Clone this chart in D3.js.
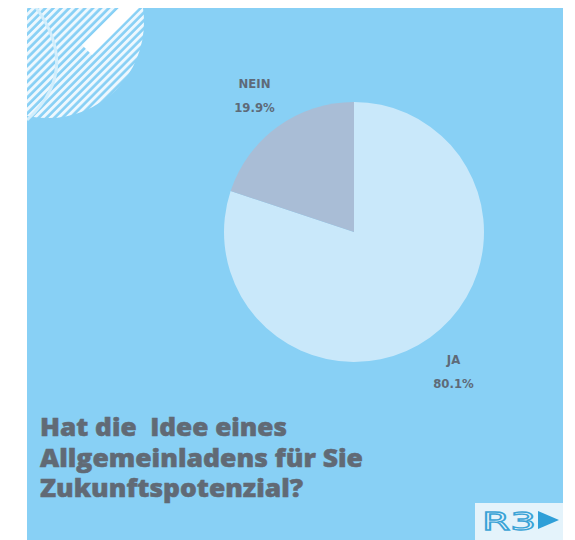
<!DOCTYPE html>
<html>
<head>
<meta charset="utf-8">
<script src="https://cdn.jsdelivr.net/npm/d3@7"></script>
<style>
  body { margin: 0; background: #ffffff; }
</style>
</head>
<body>
<div id="chart"></div>
<script>
// data
const categories = ["JA", "NEIN"];
const values = [80.1, 19.9];
const valueLabels = ["80.1%", "19.9%"];
const colors = ["#c9e8fa", "#a9bdd6"];
const titleLines = ["Hat die  Idee eines", "Allgemeinladens für Sie", "Zukunftspotenzial?"];

const width = 575, height = 540;

let svg = d3.select("#chart")
  .append("svg")
  .attr("width", width)
  .attr("height", height);

// blue card
const card = { x: 27, y: 8, w: 536, h: 532 };
svg.append("rect")
  .attr("x", card.x).attr("y", card.y)
  .attr("width", card.w).attr("height", card.h)
  .attr("fill", "#88d0f5");

let defs = svg.append("defs");
defs.append("clipPath").attr("id", "cardClip")
  .append("rect")
  .attr("x", card.x).attr("y", card.y)
  .attr("width", card.w).attr("height", card.h);

// diagonal stripes for the corner decoration
let pat = defs.append("pattern")
  .attr("id", "stripes")
  .attr("patternUnits", "userSpaceOnUse")
  .attr("width", 5.6).attr("height", 8)
  .attr("patternTransform", "rotate(45)");
pat.append("rect").attr("width", 2.9).attr("height", 8).attr("fill", "#eef8fe");

let deco = svg.append("g").attr("clip-path", "url(#cardClip)");
deco.append("circle")
  .attr("cx", 48).attr("cy", 22).attr("r", 96)
  .attr("fill", "url(#stripes)");
deco.append("path")
  .attr("d", "M35,6 Q82,70 27,120")
  .attr("fill", "none")
  .attr("stroke", "#d2eefc")
  .attr("stroke-width", 3);
deco.append("line")
  .attr("x1", 87).attr("y1", 50)
  .attr("x2", 139).attr("y2", -2)
  .attr("stroke", "#ffffff")
  .attr("stroke-width", 14);

// pie
const cx = 354, cy = 232, radius = 130;
let pie = d3.pie().sort(null).value(d => d);
let arcs = pie(values);
let arc = d3.arc().innerRadius(0).outerRadius(radius);
let labelArc = d3.arc().innerRadius(170).outerRadius(170);

let g = svg.append("g").attr("transform", "translate(" + cx + "," + cy + ")");
g.selectAll("path.slice")
  .data(arcs)
  .enter()
  .append("path")
    .attr("class", "slice")
    .attr("d", arc)
    .attr("fill", (d, i) => colors[i]);

let lab = g.selectAll("g.lab")
  .data(arcs)
  .enter()
  .append("g")
    .attr("class", "lab")
    .attr("transform", d => "translate(" + labelArc.centroid(d) + ")");
lab.append("text")
  .attr("y", -6)
  .attr("text-anchor", "middle")
  .style("font-family", "'DejaVu Sans Condensed', 'DejaVu Sans'")
  .style("font-weight", "bold")
  .style("font-size", "13px")
  .style("fill", "#5e6a78")
  .text((d, i) => categories[i]);
lab.append("text")
  .attr("y", 18)
  .attr("text-anchor", "middle")
  .style("font-family", "'DejaVu Sans Condensed', 'DejaVu Sans'")
  .style("font-weight", "bold")
  .style("font-size", "13px")
  .style("fill", "#5e6a78")
  .text((d, i) => valueLabels[i]);

// title
const titleWidths = [247, 323, 263];
svg.append("g")
  .selectAll("text")
  .data(titleLines)
  .enter()
  .append("text")
    .attr("x", 40)
    .attr("y", (d, i) => 436 + i * 30.5)
    .attr("textLength", (d, i) => titleWidths[i])
    .attr("lengthAdjust", "spacingAndGlyphs")
    .style("font-family", "'Open Sans'")
    .style("font-weight", "800")
    .style("font-size", "24px")
    .style("fill", "#616a75")
    .style("stroke", "#616a75")
    .style("stroke-width", 0.5)
    .style("white-space", "pre")
    .text(d => d);

// logo
let logo = svg.append("g");
logo.append("rect")
  .attr("x", 475).attr("y", 503)
  .attr("width", 88).attr("height", 37)
  .attr("fill", "#e4f3fb");
logo.append("text")
  .attr("x", 482).attr("y", 530)
  .attr("textLength", 54)
  .attr("lengthAdjust", "spacingAndGlyphs")
  .style("font-family", "'DejaVu Sans'")
  .style("font-size", "25px")
  .style("fill", "none")
  .style("stroke", "#3aa3d6")
  .style("stroke-width", 1.3)
  .text("R3");
logo.append("path")
  .attr("d", "M538,511 L559,520 L538,529 Z")
  .attr("fill", "#2f9fd8");
</script>
</body>
</html>
